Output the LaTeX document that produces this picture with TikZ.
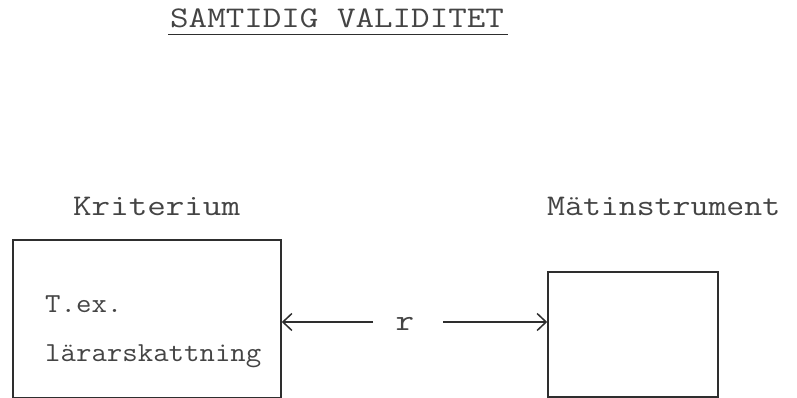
\documentclass[tikz,border=0pt]{standalone}
\usepackage{fontspec}
\newfontfamily\tta[FakeStretch=1.2]{Latin Modern Mono}
\newfontfamily\ttb[FakeStretch=1.16]{Latin Modern Mono}
\newfontfamily\ttc[FakeStretch=1.09]{Latin Modern Mono}
\usetikzlibrary{arrows.meta}
\definecolor{ink}{HTML}{2E2E2E}
\definecolor{txt}{HTML}{444444}
\tikzset{
  lbl/.style={anchor=base west, inner sep=0pt, text=txt, font=\fontsize{30}{30}\selectfont\tta},
  lblb/.style={lbl, font=\fontsize{30}{30}\selectfont\ttb},
  lblc/.style={lbl, font=\fontsize{27.5}{27.5}\selectfont\ttc},
  frame/.style={draw=ink, line width=1.6pt, inner sep=0pt},
  arr/.style={draw=ink, line width=1.5pt, -{Straight Barb[length=9pt,width=17pt,line width=1.5pt]}}
}
\begin{document}
\begin{tikzpicture}[x=1pt,y=-1pt]
\useasboundingbox[fill=white] (0,0) rectangle (797,398);
% title
\node[lbl] (title) at (170,28) {SAMTIDIG VALIDITET};
\draw[ink, line width=1.3pt] ([xshift=-2pt,yshift=-6.5pt]title.base west) -- ([xshift=4pt,yshift=-6.5pt]title.base east);
% headings
\node[lbl] (krit) at (73,215) {Kriterium};
\node[lblb] (mat) at (547,215) {Mätinstrument};
% boxes
\node[frame, minimum width=268pt, minimum height=158pt] (box1) at (147,319) {};
\node[frame, minimum width=170pt, minimum height=125pt] (box2) at (633,334.5) {};
% box text
\node[lblc] (tex) at (45,312) {T.ex.};
\node[lblc] (lar) at (45,361) {lärarskattning};
% correlation
\node[lbl, anchor=base] (r) at (405,330) {r};
\coordinate (la) at (373,322);
\coordinate (ra) at (443,322);
\draw[arr] (la) -- (box1.east |- la);
\draw[arr] (ra) -- (box2.west |- ra);
\end{tikzpicture}
\end{document}
